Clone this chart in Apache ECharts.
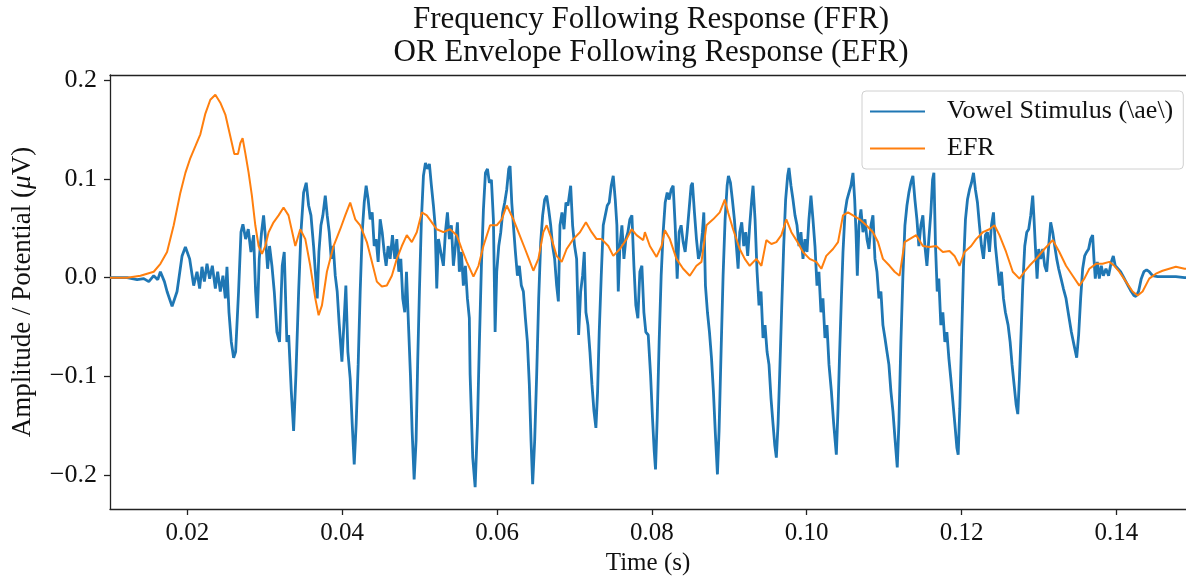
<!DOCTYPE html>
<html>
<head>
<meta charset="utf-8">
<script src="https://cdn.jsdelivr.net/npm/echarts@6/dist/echarts.min.js"></script>
<style>
html,body{margin:0;padding:0;background:#fff;}
#chart{width:1186px;height:581px;}
</style>
</head>
<body>
<div id="chart"></div>
<script>
// ---- data (time in s, amplitude) ----
const vowelStimulus = [
[0.0100,0.000],[0.01221,0.000],[0.01350,-0.002],[0.01436,-0.001],[0.01501,-0.004],[0.01565,0.002],[0.01617,-0.002],[0.01651,0.006],[0.01703,-0.004],
[0.01737,-0.014],[0.01802,-0.029],[0.01866,-0.014],[0.01931,0.022],[0.01974,0.031],[0.02029,0.019],[0.02081,-0.008],[0.02124,0.006],
[0.02158,-0.011],[0.02188,0.011],[0.02219,-0.004],[0.02253,0.014],[0.02287,-0.001],[0.02322,0.012],[0.02361,-0.011],[0.02391,0.006],
[0.02425,-0.014],[0.02459,0.002],[0.02490,-0.021],[0.02511,0.011],[0.02537,-0.035],[0.02567,-0.065],[0.02597,-0.081],[0.02623,-0.075],
[0.02661,-0.014],[0.02692,0.046],[0.02717,0.054],[0.02752,0.039],[0.02786,0.049],[0.02821,0.026],[0.02855,0.043],[0.02881,-0.014],
[0.02902,-0.041],[0.02928,0.019],[0.02958,0.046],[0.02984,0.063],[0.03010,0.039],[0.03036,0.009],[0.03061,0.032],[0.03092,0.012],
[0.03122,-0.014],[0.03156,-0.055],[0.03190,-0.065],[0.03225,0.012],[0.03251,0.026],[0.03285,-0.065],
[0.03308,-0.058],[0.03342,-0.115],[0.03372,-0.155],[0.03402,-0.098],[0.03437,-0.014],[0.03467,0.046],[0.03501,0.086],[0.03535,0.096],
[0.03566,0.073],[0.03596,0.063],[0.03630,0.032],[0.03656,0.002],[0.03677,-0.021],[0.03699,0.026],[0.03725,0.053],[0.03750,0.063],
[0.03781,0.083],[0.03806,0.063],[0.03832,0.046],[0.03858,0.019],[0.03884,0.032],[0.03910,0.002],[0.03935,-0.014],[0.03961,-0.047],
[0.03996,-0.085],[0.04021,-0.048],[0.04047,-0.008],[0.04073,-0.075],[0.04103,-0.102],[0.04129,-0.148],[0.04155,-0.189],[0.04180,-0.148],
[0.04206,-0.088],[0.04232,-0.014],[0.04258,0.046],[0.04284,0.076],[0.04309,0.093],[0.04335,0.079],[0.04361,0.059],[0.04387,0.066],
[0.04413,0.032],[0.04438,0.039],[0.04464,0.016],[0.04490,0.059],[0.04516,0.046],[0.04542,0.026],[0.04567,0.012],[0.04593,0.032],
[0.04619,0.019],[0.04649,0.043],[0.04679,0.019],[0.04705,0.039],[0.04731,0.006],[0.04757,0.019],[0.04782,-0.021],[0.04808,-0.035],
[0.04830,0.006],[0.04856,-0.048],[0.04881,-0.098],[0.04903,-0.155],[0.04929,-0.204],[0.04954,-0.165],[0.04976,-0.081],[0.04997,-0.014],
[0.05023,0.059],[0.05049,0.103],[0.05075,0.116],[0.05101,0.110],[0.05126,0.115],[0.05152,0.093],[0.05178,0.073],[0.05200,0.053],
[0.05221,-0.011],[0.05243,0.039],[0.05273,0.026],[0.05307,0.012],[0.05333,0.046],[0.05359,0.066],[0.05384,0.039],[0.05410,0.053],
[0.05436,0.012],[0.05462,0.032],[0.05488,0.056],[0.05513,0.006],[0.05539,0.026],[0.05565,-0.008],[0.05591,0.012],[0.05617,-0.021],
[0.05642,-0.041],[0.05652,-0.098],[0.05686,-0.182],[0.05717,-0.212],[0.05747,-0.148],[0.05772,-0.065],[0.05798,0.012],[0.05824,0.069],
[0.05850,0.106],[0.05876,0.110],[0.05901,0.096],[0.05927,0.099],[0.05953,0.059],[0.05975,-0.055],[0.05996,0.006],[0.06022,0.032],
[0.06048,0.046],[0.06073,0.066],[0.06099,0.076],[0.06125,0.089],[0.06151,0.110],[0.06168,0.113],[0.06190,0.076],[0.06211,0.053],
[0.06237,0.026],[0.06263,0.002],[0.06288,0.012],[0.06314,-0.008],[0.06340,-0.014],[0.06366,-0.041],[0.06392,-0.065],[0.06417,-0.108],
[0.06439,-0.165],[0.06460,-0.209],[0.06486,-0.165],[0.06512,-0.098],[0.06538,-0.021],[0.06564,0.036],[0.06589,0.063],[0.06615,0.079],
[0.06641,0.083],[0.06667,0.069],[0.06693,0.053],[0.06718,0.032],[0.06744,0.019],[0.06770,-0.008],[0.06792,-0.024],[0.06813,0.053],
[0.06839,0.066],[0.06865,0.049],[0.06890,0.076],[0.06916,0.073],[0.06951,0.093],[0.06976,0.053],[0.07002,0.032],[0.07028,0.019],
[0.07054,-0.058],[0.07080,-0.014],[0.07105,0.002],[0.07127,0.026],[0.07148,-0.035],[0.07174,-0.048],[0.07200,-0.075],[0.07226,-0.108],
[0.07252,-0.135],[0.07277,-0.152],[0.07299,-0.115],[0.07320,-0.055],[0.07346,0.002],[0.07372,0.053],[0.07398,0.063],[0.07424,0.073],
[0.07449,0.076],[0.07475,0.093],[0.07501,0.103],[0.07527,0.079],[0.07548,0.053],[0.07566,-0.014],[0.07587,0.032],[0.07613,0.053],
[0.07639,0.019],[0.07664,0.039],[0.07690,0.046],[0.07716,0.059],[0.07742,0.063],[0.07768,0.012],[0.07793,-0.028],[0.07819,-0.041],
[0.07845,0.006],[0.07871,0.012],[0.07897,-0.035],[0.07922,-0.055],
[0.07953,-0.058],[0.07983,-0.098],[0.08008,-0.142],[0.08030,-0.175],[0.08047,-0.194],[0.08069,-0.142],[0.08094,-0.065],[0.08120,0.002],
[0.08146,0.046],[0.08172,0.076],[0.08198,0.086],[0.08223,0.079],[0.08249,0.089],[0.08275,0.093],[0.08301,0.053],[0.08327,-0.001],
[0.08352,0.046],[0.08378,0.053],[0.08404,0.036],[0.08430,0.026],[0.08456,0.046],[0.08481,0.069],[0.08507,0.093],[0.08524,0.096],
[0.08550,0.066],[0.08576,0.039],[0.08602,0.019],[0.08628,0.026],[0.08653,0.046],[0.08671,0.066],[0.08692,-0.008],[0.08718,-0.035],
[0.08744,-0.055],[0.08770,-0.081],[0.08795,-0.115],[0.08821,-0.159],[0.08847,-0.199],[0.08868,-0.155],[0.08894,-0.075],[0.08920,0.002],
[0.08946,0.059],[0.08972,0.093],[0.08989,0.103],[0.09015,0.096],[0.09040,0.079],[0.09066,0.059],[0.09092,0.032],[0.09114,0.009],
[0.09135,0.046],[0.09161,0.056],[0.09187,0.032],[0.09212,0.046],[0.09238,0.022],[0.09264,0.053],[0.09290,0.079],[0.09307,0.093],
[0.09333,0.059],[0.09359,0.006],[0.09384,-0.028],[0.09410,-0.014],[0.09436,-0.061],[0.09462,-0.048],[0.09488,-0.075],[0.09513,-0.088],
[0.09539,-0.122],[0.09565,-0.148],[0.09587,-0.169],[0.09608,-0.182],[0.09630,-0.148],[0.09651,-0.098],[0.09677,-0.031],[0.09703,0.032],
[0.09728,0.079],[0.09754,0.103],[0.09771,0.111],[0.09797,0.093],[0.09823,0.079],[0.09849,0.063],[0.09875,0.053],[0.09900,0.032],
[0.09926,0.046],[0.09952,0.019],[0.09978,0.039],[0.10004,0.026],[0.10029,0.059],[0.10055,0.083],[0.10081,0.059],[0.10107,0.032],
[0.10133,-0.008],[0.10158,0.006],[0.10184,-0.035],[0.10210,-0.021],[0.10236,-0.061],[0.10262,-0.048],
[0.10288,-0.088],[0.10319,-0.115],[0.10349,-0.148],[0.10383,-0.179],[0.10405,-0.132],[0.10426,-0.075],[0.10448,-0.021],[0.10469,0.026],
[0.10495,0.066],[0.10521,0.079],[0.10546,0.086],[0.10572,0.093],[0.10598,0.106],[0.10620,0.079],[0.10637,0.046],[0.10654,0.002],
[0.10675,0.053],[0.10701,0.069],[0.10727,0.046],[0.10753,0.059],[0.10779,0.039],[0.10804,0.029],[0.10830,0.053],[0.10856,0.063],
[0.10882,0.019],[0.10908,0.006],[0.10933,-0.021],[0.10959,-0.014],[0.10985,-0.048],[0.11011,-0.061],[0.11037,-0.075],[0.11062,-0.088],
[0.11088,-0.115],[0.11114,-0.135],[0.11140,-0.162],[0.11170,-0.192],[0.11191,-0.148],[0.11217,-0.065],[0.11243,0.002],[0.11269,0.053],
[0.11295,0.073],[0.11320,0.086],[0.11346,0.096],[0.11372,0.103],[0.11398,0.079],[0.11424,0.059],[0.11449,0.032],[0.11475,0.053],
[0.11501,0.063],[0.11527,0.032],[0.11553,0.012],[0.11578,0.039],[0.11604,0.066],[0.11626,0.099],[0.11643,0.106],[0.11664,0.032],
[0.11686,-0.014],[0.11707,-0.001],[0.11733,-0.048],[0.11759,-0.035],[0.11785,-0.065],[0.11811,-0.055],[0.11836,-0.081],[0.11862,-0.102],
[0.11888,-0.125],[0.11914,-0.148],[0.11940,-0.172],[0.11957,-0.179],[0.11978,-0.132],[0.12000,-0.065],[0.12026,0.012],[0.12051,0.059],
[0.12077,0.079],[0.12103,0.089],[0.12129,0.096],[0.12155,0.106],[0.12180,0.089],[0.12206,0.076],[0.12232,0.053],[0.12258,0.032],
[0.12284,0.019],[0.12309,0.043],[0.12335,0.046],[0.12361,0.026],[0.12387,0.053],[0.12413,0.066],[0.12438,0.032],[0.12464,0.012],
[0.12490,-0.008],[0.12516,0.006],[0.12542,-0.021],[0.12567,-0.035],
[0.12602,-0.048],[0.12628,-0.065],[0.12653,-0.088],[0.12679,-0.108],[0.12705,-0.128],[0.12727,-0.138],[0.12748,-0.102],[0.12770,-0.055],
[0.12791,-0.008],[0.12817,0.032],[0.12843,0.046],[0.12868,0.049],[0.12894,0.063],[0.12920,0.083],[0.12937,0.059],[0.12954,0.032],
[0.12976,-0.001],[0.12997,0.029],[0.13023,0.019],[0.13049,0.029],[0.13075,0.012],[0.13101,0.006],[0.13126,0.032],[0.13152,0.056],
[0.13178,0.046],[0.13204,0.032],[0.13230,0.019],[0.13255,0.009],[0.13286,-0.001],[0.13316,-0.011],[0.13350,-0.021],[0.13384,-0.038],
[0.13419,-0.055],[0.13453,-0.068],[0.13488,-0.081],[0.13513,-0.058],[0.13539,-0.021],[0.13565,0.009],[0.13591,0.022],[0.13617,0.026],
[0.13642,0.029],[0.13668,0.039],[0.13694,0.043],[0.13711,0.019],[0.13728,-0.001],[0.13754,0.016],[0.13780,-0.001],[0.13806,0.012],
[0.13832,0.002],[0.13866,0.009],[0.13900,0.002],[0.13935,0.016],[0.13961,0.022],[0.13986,0.012],[0.14021,0.009],[0.14055,0.006],
[0.14090,0.001],[0.14124,-0.004],[0.14158,-0.009],[0.14193,-0.014],[0.14227,-0.018],[0.14253,-0.019],[0.14287,-0.014],[0.14322,-0.001],
[0.14356,0.006],[0.14391,0.008],[0.14425,0.006],[0.14468,0.002],[0.14533,0.001],[0.14640,0.001],[0.14769,0.001],[0.14881,0.000],[0.1495,0.000]
];

const efr = [
[0.0100,0.000],[0.01221,0.000],[0.01393,0.002],[0.01565,0.006],[0.01651,0.014],[0.01737,0.026],[0.01823,0.053],[0.01909,0.086],
[0.01974,0.106],[0.02038,0.121],[0.02103,0.133],[0.02167,0.145],[0.02232,0.166],[0.02296,0.180],[0.02361,0.185],[0.02425,0.177],
[0.02490,0.165],[0.02554,0.143],[0.02606,0.125],[0.02653,0.125],[0.02683,0.136],[0.02713,0.141],[0.02748,0.126],[0.02791,0.106],
[0.02833,0.083],[0.02877,0.053],[0.02920,0.032],[0.02963,0.024],[0.03006,0.032],[0.03049,0.046],[0.03113,0.056],[0.03178,0.063],
[0.03242,0.071],[0.03265,0.069],[0.03306,0.063],[0.03394,0.032],[0.03458,0.049],[0.03523,0.039],[0.03587,0.012],[0.03652,-0.021],
[0.03695,-0.038],[0.03738,-0.028],[0.03802,0.006],[0.03888,0.032],[0.03974,0.049],[0.04039,0.063],[0.04103,0.076],[0.04168,0.059],
[0.04232,0.053],[0.04318,0.036],[0.04383,0.016],[0.04447,-0.004],[0.04512,-0.009],[0.04576,-0.008],[0.04641,0.002],[0.04705,0.019],
[0.04770,0.032],[0.04834,0.043],[0.04899,0.036],[0.04963,0.046],[0.05028,0.066],[0.05092,0.063],[0.05157,0.056],[0.05221,0.049],
[0.05307,0.046],[0.05393,0.049],[0.05479,0.043],[0.05544,0.029],[0.05609,0.016],[0.05695,0.001],[0.05760,0.012],[0.05824,0.032],
[0.05910,0.053],[0.05996,0.053],[0.06061,0.059],[0.06125,0.073],[0.06211,0.059],[0.06276,0.046],[0.06362,0.029],[0.06426,0.016],
[0.06469,0.007],[0.06534,0.019],[0.06598,0.046],[0.06641,0.053],[0.06706,0.039],[0.06770,0.022],[0.06835,0.016],[0.06899,0.029],
[0.06985,0.039],[0.07071,0.046],[0.07148,0.056],[0.07222,0.046],[0.07286,0.039],[0.07351,0.039],[0.07437,0.032],[0.07501,0.022],
[0.07587,0.029],[0.07673,0.039],[0.07738,0.049],[0.07802,0.043],[0.07888,0.038],[0.07910,0.046],[0.07974,0.032],[0.08060,0.021],
[0.08125,0.032],[0.08168,0.048],[0.08232,0.039],[0.08318,0.019],[0.08404,0.009],[0.08490,0.002],[0.08576,0.012],[0.08641,0.016],
[0.08705,0.053],[0.08791,0.059],[0.08877,0.066],[0.08942,0.079],[0.08985,0.066],[0.09049,0.049],[0.09135,0.029],[0.09200,0.019],
[0.09264,0.012],[0.09350,0.019],[0.09415,0.012],[0.09479,0.038],[0.09544,0.034],[0.09608,0.036],[0.09673,0.043],[0.09737,0.059],
[0.09802,0.046],[0.09866,0.038],[0.09952,0.026],[0.10038,0.019],[0.10124,0.016],[0.10189,0.009],[0.10253,0.022],[0.10340,0.029],
[0.10405,0.036],[0.10469,0.063],[0.10534,0.066],[0.10598,0.063],[0.10684,0.059],[0.10770,0.053],[0.10856,0.046],[0.10921,0.036],
[0.10985,0.019],[0.11071,0.012],[0.11136,0.006],[0.11200,0.002],[0.11265,0.036],[0.11329,0.039],[0.11415,0.043],[0.11501,0.032],
[0.11587,0.031],[0.11673,0.032],[0.11759,0.026],[0.11845,0.027],[0.11910,0.022],[0.11974,0.012],[0.12039,0.026],[0.12125,0.032],
[0.12189,0.039],[0.12275,0.046],[0.12361,0.049],[0.12426,0.053],[0.12490,0.043],[0.12576,0.026],[0.12662,0.006],[0.12748,-0.001],
[0.12813,0.006],[0.12877,0.012],[0.12963,0.019],[0.13071,0.029],[0.13178,0.038],[0.13264,0.026],[0.13350,0.012],[0.13436,0.002],
[0.13522,-0.008],[0.13587,-0.001],[0.13651,0.009],[0.13737,0.014],[0.13823,0.014],[0.13909,0.016],[0.13974,0.012],[0.14038,0.006],
[0.14124,-0.004],[0.14210,-0.014],[0.14275,-0.018],[0.14339,-0.014],[0.14425,-0.001],[0.14511,0.004],[0.14597,0.007],[0.14683,0.009],
[0.14769,0.011],[0.14881,0.009],[0.1495,0.009]
];

const xTicks = [0.02, 0.04, 0.06, 0.08, 0.10, 0.12, 0.14];
const yTicks = [-0.2, -0.1, 0.0, 0.1, 0.2];
const seriesNames = ['Vowel Stimulus (\\ae\\)', 'EFR'];
const titleText = 'Frequency Following Response (FFR)\nOR Envelope Following Response (EFR)';

const FONT = '"Liberation Serif", "DejaVu Serif", serif';
const chart = echarts.init(document.getElementById('chart'), null, {renderer: 'canvas'});
const fmtY = v => (v < 0 ? '\u2212' : '') + Math.abs(v).toFixed(1);

chart.setOption({
  animation: false,
  backgroundColor: '#fff',
  textStyle: {fontFamily: FONT},
  title: {
    text: titleText,
    left: 651, top: 3, textAlign: 'center',
    padding: 0,
    textStyle: {fontFamily: FONT, fontSize: 31, fontWeight: 'normal', color: '#111', lineHeight: 33}
  },
  legend: {
    orient: 'vertical',
    left: 862, top: 91,
    padding: [7, 10, 7, 8],
    itemGap: 10,
    icon: 'rect',
    itemWidth: 55, itemHeight: 2,
    borderColor: '#d0d0d0', borderWidth: 1, borderRadius: 4,
    backgroundColor: 'rgba(255,255,255,0.85)',
    textStyle: {fontFamily: FONT, fontSize: 26, color: '#111', lineHeight: 27, padding: [0, 0, 0, 17]},
    data: seriesNames
  },
  grid: {left: 110, right: 0, top: 75, bottom: 69, containLabel: false},
  xAxis: [{
    type: 'value', min: 0.01, max: 0.149, position: 'bottom',
    name: 'Time (s)', nameLocation: 'middle', nameGap: 42,
    nameTextStyle: {fontFamily: FONT, fontSize: 25, color: '#111'},
    axisLine: {show: true, onZero: false, lineStyle: {color: '#222', width: 1.3}},
    axisTick: {show: true, length: 6, lineStyle: {color: '#222', width: 1.3}, customValues: xTicks},
    axisLabel: {fontFamily: FONT, fontSize: 25, color: '#111', margin: 12, customValues: xTicks, formatter: v => v.toFixed(2)},
    splitLine: {show: false}
  }, {
    type: 'value', min: 0.01, max: 0.149, position: 'top',
    axisLine: {show: true, onZero: false, lineStyle: {color: '#222', width: 1.3}},
    axisTick: {show: false}, axisLabel: {show: false}, splitLine: {show: false}
  }],
  yAxis: {
    type: 'value', min: -0.234, max: 0.205,
    name: 'Amplitude / Potential ({i|\u03bc}V)', nameLocation: 'middle', nameGap: 74, nameRotate: 90,
    nameTextStyle: {fontFamily: FONT, fontSize: 27, color: '#111', rich: {i: {fontFamily: FONT, fontSize: 27, fontStyle: 'italic', color: '#111'}}},
    axisLine: {show: true, onZero: false, lineStyle: {color: '#222', width: 1.3}},
    axisTick: {show: true, length: 6, lineStyle: {color: '#222', width: 1.3}, customValues: yTicks},
    axisLabel: {fontFamily: FONT, fontSize: 26, color: '#111', margin: 13, customValues: yTicks, formatter: fmtY},
    splitLine: {show: false}
  },
  series: [{
    name: seriesNames[0], type: 'line', data: vowelStimulus, showSymbol: false, symbol: 'none',
    lineStyle: {color: '#1f77b4', width: 2.8}, itemStyle: {color: '#1f77b4'}, z: 2
  }, {
    name: seriesNames[1], type: 'line', data: efr, showSymbol: false, symbol: 'none',
    lineStyle: {color: '#ff7f0e', width: 2}, itemStyle: {color: '#ff7f0e'}, z: 3
  }]
});
</script>
</body>
</html>
